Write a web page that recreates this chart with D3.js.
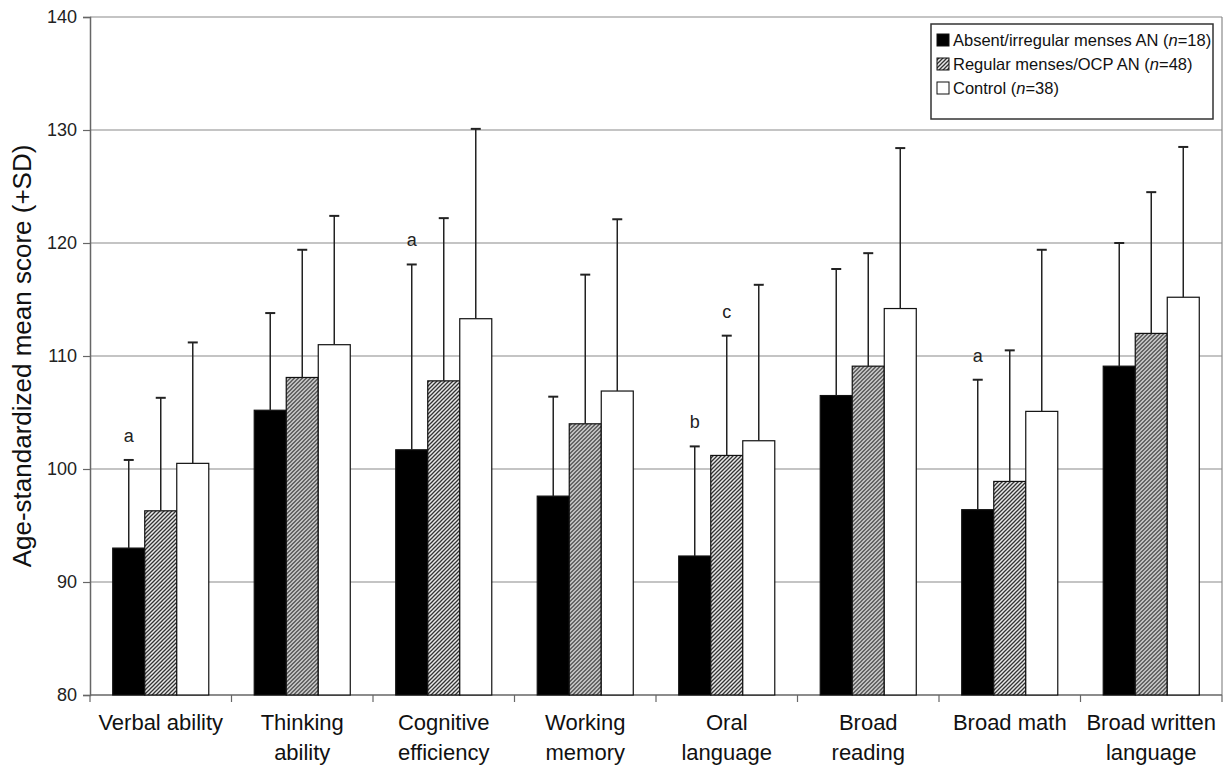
<!DOCTYPE html>
<html lang="en">
<head>
  <meta charset="UTF-8">
  <title>Age-standardized mean scores</title>
  <script src="https://d3js.org/d3.v7.min.js"></script>
  <style>
    body { margin: 0; background: #fff; }
    svg { font-family: "Liberation Sans", Arial, sans-serif; }
    .tick-label { font-size: 18px; fill: #222; }
    .cat-label { font-size: 22px; fill: #111; }
    .axis-title { font-size: 26px; fill: #111; }
    .legend-text { font-size: 16.5px; fill: #111; }
    .note { font-size: 18px; fill: #222; text-anchor: middle; }
  </style>
</head>
<body>
  <div id="chart"></div>

  <script>
    // categories (second entry = second line of the label)
    const categories = [
      ["Verbal ability"], ["Thinking", "ability"], ["Cognitive", "efficiency"],
      ["Working", "memory"], ["Oral", "language"], ["Broad", "reading"],
      ["Broad math"], ["Broad written", "language"]
    ];
    const seriesNames = ["absent", "regular", "control"];

    // means and mean+SD
    const absentMean  = [93.0, 105.2, 101.7, 97.6, 92.3, 106.5, 96.4, 109.1];
    const absentTop   = [100.8, 113.8, 118.1, 106.4, 102.0, 117.7, 107.9, 120.0];
    const regularMean = [96.3, 108.1, 107.8, 104.0, 101.2, 109.1, 98.9, 112.0];
    const regularTop  = [106.3, 119.4, 122.2, 117.2, 111.8, 119.1, 110.5, 124.5];
    const controlMean = [100.5, 111.0, 113.3, 106.9, 102.5, 114.2, 105.1, 115.2];
    const controlTop  = [111.2, 122.4, 130.1, 122.1, 116.3, 128.4, 119.4, 128.5];

    // significance letters: [category index, series, letter]
    const notes = [[0, "absent", "a"], [2, "absent", "a"], [4, "absent", "b"],
                   [4, "regular", "c"], [6, "absent", "a"]];

    const yTicks = [80, 90, 100, 110, 120, 130, 140];

    const legendItems = [
      { key: "absent", pre: "Absent/irregular menses AN (", n: "18" },
      { key: "regular", pre: "Regular menses/OCP AN (", n: "48" },
      { key: "control", pre: "Control (", n: "38" }
    ];

    const means = { absent: absentMean, regular: regularMean, control: controlMean };
    const tops = { absent: absentTop, regular: regularTop, control: controlTop };

    const W = 1228, H = 767;
    const margin = { top: 17, right: 6, bottom: 72, left: 90 };
    const width = W - margin.left - margin.right;
    const height = H - margin.top - margin.bottom;

    const svg = d3.select("#chart").append("svg")
      .attr("width", W).attr("height", H);

    const defs = svg.append("defs");
    defs.append("pattern")
      .attr("id", "hatch")
      .attr("patternUnits", "userSpaceOnUse")
      .attr("width", 4).attr("height", 4)
      .call(p => {
        p.append("rect").attr("width", 4).attr("height", 4).attr("fill", "#e8e8e8");
        p.append("path")
          .attr("d", "M-1,1 l2,-2 M0,4 l4,-4 M3,5 l2,-2")
          .attr("stroke", "#333").attr("stroke-width", 1.3);
      });

    const fills = { absent: "#000", regular: "url(#hatch)", control: "#fff" };

    const g = svg.append("g")
      .attr("transform", `translate(${margin.left},${margin.top})`);

    const x0 = d3.scaleBand()
      .domain(d3.range(categories.length))
      .range([0, width])
      .paddingInner(0).paddingOuter(0);

    const x1 = d3.scaleBand()
      .domain(seriesNames)
      .range([0, x0.bandwidth()])
      .paddingInner(0).paddingOuter(0.71);

    const y = d3.scaleLinear().domain([80, 140]).range([height, 0]);

    // gridlines
    g.append("g").selectAll("line")
      .data(yTicks.filter(t => t > 80))
      .join("line")
      .attr("x1", 0).attr("x2", width)
      .attr("y1", d => y(d)).attr("y2", d => y(d))
      .attr("stroke", "#8a8a8a").attr("stroke-width", 1.2);

    // right border
    g.append("line")
      .attr("x1", width).attr("x2", width)
      .attr("y1", 0).attr("y2", height)
      .attr("stroke", "#8a8a8a").attr("stroke-width", 1.2);

    // y axis
    const yAxis = g.append("g")
      .call(d3.axisLeft(y).tickValues(yTicks).tickSize(7).tickPadding(6));
    yAxis.select(".domain").attr("stroke", "#666").attr("stroke-width", 1.5);
    yAxis.selectAll(".tick line").attr("stroke", "#666").attr("stroke-width", 1.2);
    yAxis.selectAll(".tick text").attr("class", "tick-label").attr("font-size", null).attr("font-family", null);

    // x axis with ticks at category boundaries
    g.append("line")
      .attr("x1", 0).attr("x2", width)
      .attr("y1", height).attr("y2", height)
      .attr("stroke", "#666").attr("stroke-width", 1.5);
    g.append("g").selectAll("line")
      .data(d3.range(categories.length + 1))
      .join("line")
      .attr("x1", i => i * x0.step()).attr("x2", i => i * x0.step())
      .attr("y1", height).attr("y2", height + 7)
      .attr("stroke", "#666").attr("stroke-width", 1.2);

    // category labels
    g.append("g").selectAll("text")
      .data(categories)
      .join("text")
      .attr("class", "cat-label")
      .attr("text-anchor", "middle")
      .attr("transform", (d, i) => `translate(${x0(i) + x0.bandwidth() / 2},${height + 35})`)
      .selectAll("tspan")
      .data(d => d)
      .join("tspan")
      .attr("x", 0)
      .attr("dy", (d, j) => j === 0 ? 0 : 30)
      .text(d => d);

    // bars
    const groups = g.append("g").selectAll("g")
      .data(categories.map((c, i) => i))
      .join("g")
      .attr("transform", i => `translate(${x0(i)},0)`);

    groups.selectAll("rect")
      .data(i => seriesNames.map(s => ({ s, i, v: means[s][i], top: tops[s][i] })))
      .join("rect")
      .attr("x", d => x1(d.s))
      .attr("y", d => y(d.v))
      .attr("width", x1.bandwidth())
      .attr("height", d => height - y(d.v))
      .attr("fill", d => fills[d.s])
      .attr("stroke", "#111").attr("stroke-width", 1.2);

    // error bars (upper only)
    const err = groups.selectAll("g.err")
      .data(i => seriesNames.map(s => ({ s, i, v: means[s][i], top: tops[s][i] })))
      .join("g").attr("class", "err")
      .attr("stroke", "#222").attr("stroke-width", 1.5);
    err.append("line")
      .attr("x1", d => x1(d.s) + x1.bandwidth() / 2)
      .attr("x2", d => x1(d.s) + x1.bandwidth() / 2)
      .attr("y1", d => y(d.v)).attr("y2", d => y(d.top));
    err.append("line")
      .attr("x1", d => x1(d.s) + x1.bandwidth() / 2 - 5)
      .attr("x2", d => x1(d.s) + x1.bandwidth() / 2 + 5)
      .attr("y1", d => y(d.top)).attr("y2", d => y(d.top))
      .attr("stroke-width", 2);

    // significance letters
    g.append("g").selectAll("text")
      .data(notes)
      .join("text")
      .attr("class", "note")
      .attr("x", d => x0(d[0]) + x1(d[1]) + x1.bandwidth() / 2)
      .attr("y", d => y(tops[d[1]][d[0]]) - 18)
      .text(d => d[2]);

    // axis title
    svg.append("text")
      .attr("class", "axis-title")
      .attr("text-anchor", "middle")
      .attr("transform", `translate(31,${margin.top + height / 2}) rotate(-90)`)
      .text("Age-standardized mean score (+SD)");

    // legend
    const lg = g.append("g").attr("transform", `translate(${width - 291},7)`);
    lg.append("rect")
      .attr("width", 282).attr("height", 95)
      .attr("fill", "#fff").attr("stroke", "#333").attr("stroke-width", 1.5);
    const rows = lg.selectAll("g.row")
      .data(legendItems)
      .join("g").attr("class", "row")
      .attr("transform", (d, i) => `translate(6,${16 + i * 24})`);
    rows.append("rect")
      .attr("x", 0).attr("y", -6)
      .attr("width", 12).attr("height", 12)
      .attr("fill", d => fills[d.key])
      .attr("stroke", "#111").attr("stroke-width", 1);
    const lt = rows.append("text")
      .attr("class", "legend-text")
      .attr("x", 16).attr("y", 6);
    lt.append("tspan").text(d => d.pre);
    lt.append("tspan").attr("font-style", "italic").text("n");
    lt.append("tspan").text(d => "=" + d.n + ")");
  </script>
</body>
</html>
